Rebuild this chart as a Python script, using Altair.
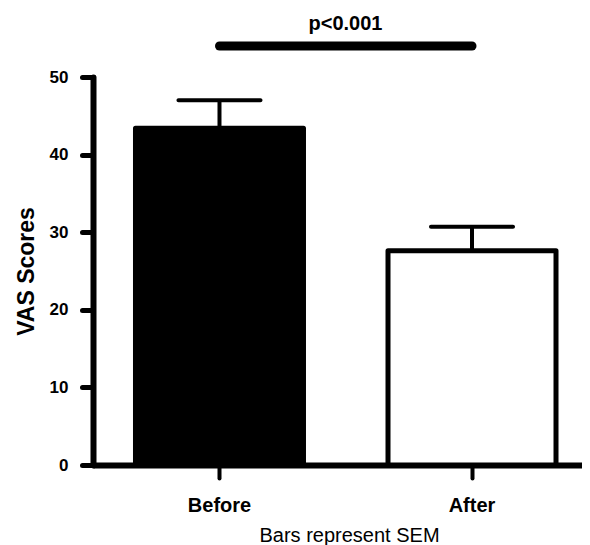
import altair as alt
import pandas as pd

conditions = ["Before", "After"]
means = [43.4, 27.6]
sems = [3.6, 3.1]
fills = ["black", "white"]

p_text = "p<0.001"
sig_level = 54.0
text_level = 56.0

df = pd.DataFrame({
    "cond": conditions,
    "mean": means,
    "upper": [m + s for m, s in zip(means, sems)],
    "fill": fills,
})
sig = pd.DataFrame({"a": [conditions[0]], "b": [conditions[1]], "y": [sig_level], "ty": [text_level], "t": [p_text]})

FONT = "Liberation Sans"
W, H = 489, 388

xscale = alt.Scale(domain=conditions, paddingInner=0.3347, paddingOuter=0.1356, align=0.6204)
yscale = alt.Scale(domain=[0, 50], nice=False)

x_enc = alt.X("cond:N", scale=xscale, sort=conditions,
              axis=alt.Axis(title="Bars represent SEM", labelAngle=0, labelFont=FONT,
                            labelFontSize=20, labelFontWeight="bold", labelColor="black",
                            labelPadding=17, tickSize=13, tickWidth=4, tickColor="black",
                            tickCap="round", domainWidth=6, domainColor="black",
                            titleFont=FONT, titleFontSize=20, titleFontWeight="normal",
                            titleColor="black", titleX=256, titleY=76,
                            titleBaseline="alphabetic", titleAlign="center"))

y_enc = alt.Y("mean:Q", scale=yscale,
              axis=alt.Axis(title="VAS Scores", values=[0, 10, 20, 30, 40, 50], grid=False,
                            labelFont=FONT, labelFontSize=17, labelFontWeight="bold",
                            labelColor="black", labelPadding=14, tickSize=11, tickWidth=5,
                            tickColor="black", tickCap="round", domainWidth=6,
                            domainColor="black", domainCap="round",
                            titleFont=FONT, titleFontSize=23, titleFontWeight="bold",
                            titleColor="black", titleX=-60, titleY=194,
                            titleBaseline="alphabetic", titleAngle=-90))

bars = alt.Chart(df).mark_bar(stroke="black", strokeWidth=5, strokeJoin="round").encode(
    x=x_enc,
    y=y_enc,
    fill=alt.Fill("fill:N", scale=None),
)

err = alt.Chart(df).mark_rule(color="black", strokeWidth=4).encode(
    x=alt.X("cond:N", scale=xscale, sort=conditions),
    y=alt.Y("mean:Q", scale=yscale),
    y2="upper:Q",
)

caps = alt.Chart(df).mark_tick(color="black", thickness=4, size=86, cornerRadius=2, opacity=1).encode(
    x=alt.X("cond:N", scale=xscale, sort=conditions),
    y=alt.Y("upper:Q", scale=yscale),
)

sig_line = alt.Chart(sig).mark_rule(color="black", strokeWidth=9, strokeCap="round").encode(
    x=alt.X("a:N", scale=xscale),
    x2="b:N",
    y=alt.Y("y:Q", scale=yscale),
)

sig_text = alt.Chart(sig).mark_text(font=FONT, fontSize=20, fontWeight="bold", color="black",
                                    baseline="alphabetic", align="center", xOffset=126).encode(
    x=alt.X("a:N", scale=xscale),
    y=alt.Y("ty:Q", scale=yscale),
    text="t:N",
)

chart = alt.layer(bars, err, caps, sig_line, sig_text).properties(
    width=W, height=H,
    autosize=alt.AutoSizeParams(type="none"),
    padding={"left": 85, "top": 69, "right": 0, "bottom": 80},
    background="white",
).configure_view(stroke=None)

chart.save("out.html", embed_options={"renderer": "svg", "actions": False})
